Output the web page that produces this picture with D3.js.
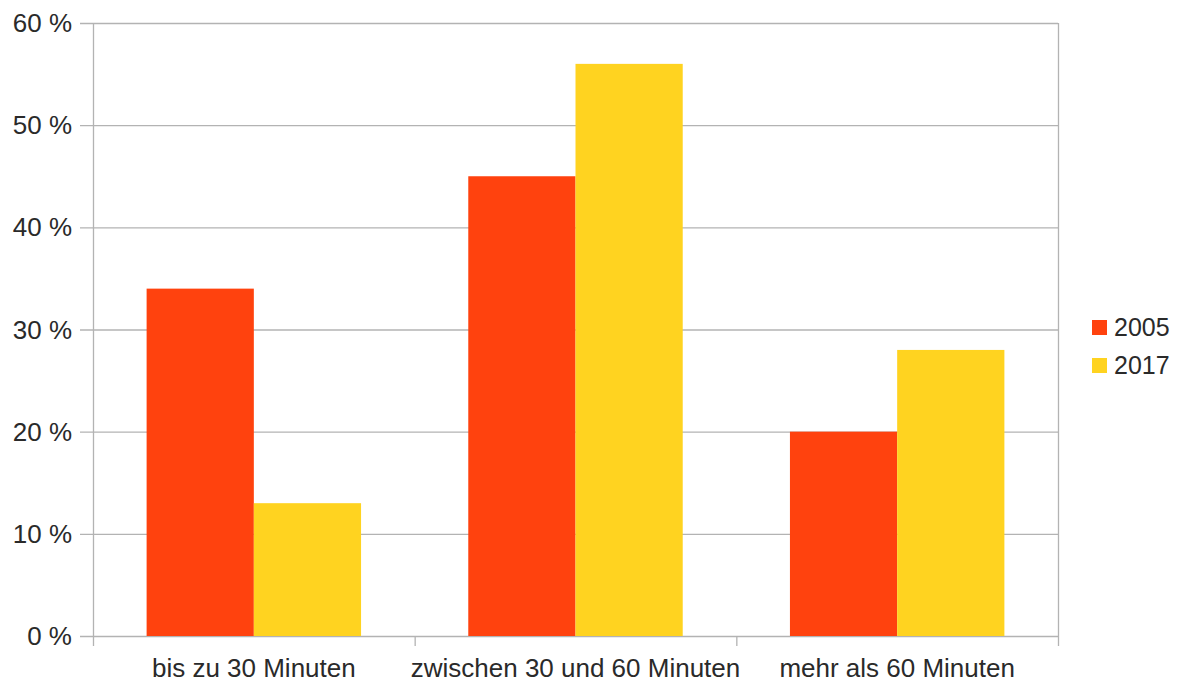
<!DOCTYPE html>
<html><head><meta charset="utf-8">
<script src="https://cdn.jsdelivr.net/npm/d3@7"></script>
<style>
html,body{margin:0;padding:0;background:#fff;}
text{font-family:"Liberation Sans",Arial,sans-serif;fill:#2a2a2a;}
</style></head>
<body>
<svg id="chart" width="1179" height="684"></svg>
<script>
const categories = ["bis zu 30 Minuten", "zwischen 30 und 60 Minuten", "mehr als 60 Minuten"];
const seriesNames = ["2005", "2017"];
const values2005 = [34, 45, 20];
const values2017 = [13, 56, 28];
const yTicks = [0, 10, 20, 30, 40, 50, 60];
const colors = ["#FF420E", "#FFD320"];

const svg = d3.select("#chart");
const m = {left: 93, right: 1058, top: 23, bottom: 636};
const x = d3.scaleBand().domain(categories).range([m.left, m.right]).paddingInner(0).paddingOuter(0);
const x1 = d3.scaleBand().domain(seriesNames).range([0, x.bandwidth()]).paddingInner(0).paddingOuter(0.5);
const y = d3.scaleLinear().domain([0, 60]).range([m.bottom, m.top]);
const grid = "#b3b3b3";

// gridlines
svg.append("g").selectAll("line").data(yTicks).join("line")
  .attr("x1", m.left - 13).attr("x2", m.right)
  .attr("y1", d => y(d) + 0.5).attr("y2", d => y(d) + 0.5)
  .attr("stroke", grid).attr("stroke-width", 1.3);

// y axis labels
svg.append("g").selectAll("text").data(yTicks).join("text")
  .attr("x", 72).attr("y", d => y(d)).attr("dy", "0.35em")
  .attr("text-anchor", "end").attr("font-size", 26)
  .text(d => d + " %");

// vertical axis lines
svg.append("line").attr("x1", m.left + 0.5).attr("x2", m.left + 0.5)
  .attr("y1", m.top).attr("y2", m.bottom + 10).attr("stroke", grid).attr("stroke-width", 1.3);
svg.append("line").attr("x1", m.right + 0.5).attr("x2", m.right + 0.5)
  .attr("y1", m.top).attr("y2", m.bottom + 10).attr("stroke", grid).attr("stroke-width", 1.3);
// category tick marks
svg.append("g").selectAll("line").data(categories.slice(1)).join("line")
  .attr("x1", d => x(d) + 0.5).attr("x2", d => x(d) + 0.5)
  .attr("y1", m.bottom).attr("y2", m.bottom + 10)
  .attr("stroke", grid).attr("stroke-width", 1.3);

// bars
const data = categories.map((c, i) => ({cat: c, vals: [values2005[i], values2017[i]]}));
const g = svg.append("g").selectAll("g").data(data).join("g")
  .attr("transform", d => `translate(${x(d.cat)},0)`);
g.selectAll("rect").data(d => d.vals.map((v, j) => ({v, s: seriesNames[j], j}))).join("rect")
  .attr("x", d => x1(d.s)).attr("width", x1.bandwidth())
  .attr("y", d => y(d.v)).attr("height", d => y(0) - y(d.v))
  .attr("fill", d => colors[d.j]);

// x labels
svg.append("g").selectAll("text").data(categories).join("text")
  .attr("x", d => x(d) + x.bandwidth() / 2).attr("y", 677)
  .attr("text-anchor", "middle").attr("font-size", 26)
  .text(d => d);

// legend
const lg = svg.append("g").selectAll("g").data(seriesNames).join("g")
  .attr("transform", (d, i) => `translate(1092,${327 + i * 38})`);
lg.append("rect").attr("x", 0).attr("y", -7).attr("width", 15).attr("height", 15)
  .attr("fill", (d, i) => colors[i]);
lg.append("text").attr("x", 22).attr("y", 0).attr("dy", "0.35em")
  .attr("font-size", 25).text(d => d);
</script>
</body></html>
